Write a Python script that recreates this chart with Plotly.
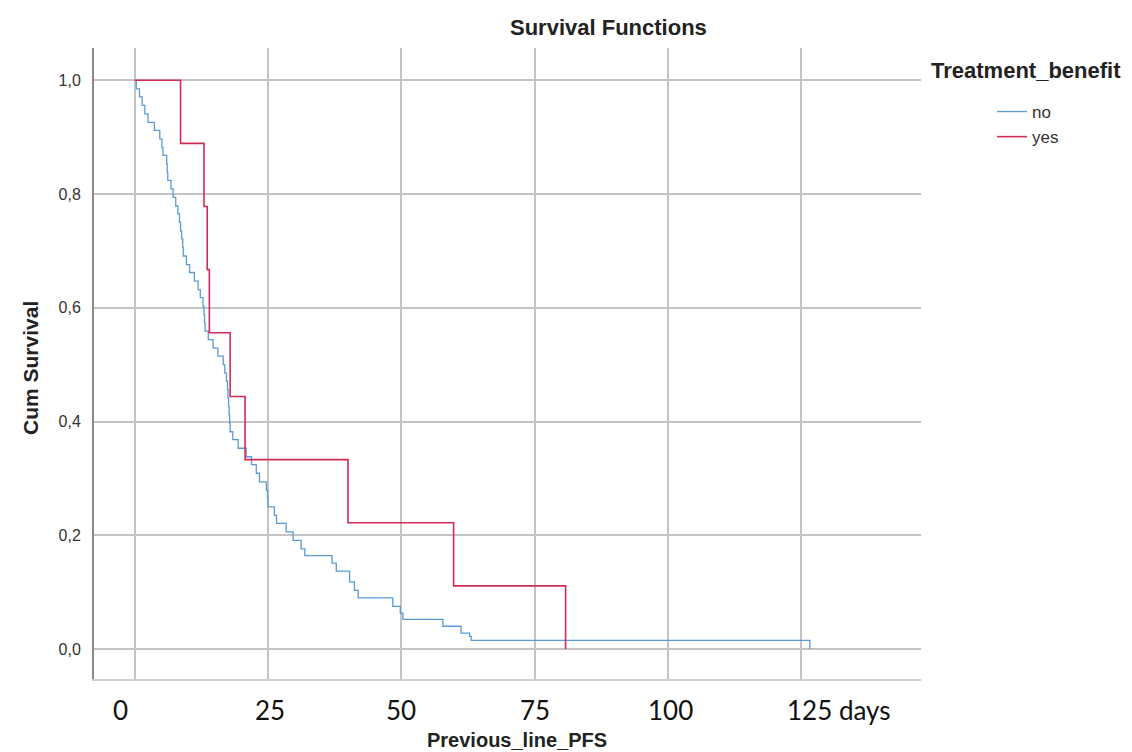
import plotly.graph_objects as go

# ---- data (Kaplan-Meier steps) ----
no_time = [0, 0.3, 0.9, 1.4, 1.9, 2.5, 3.7, 4.7, 5.1, 5.3, 6.0, 6.1, 6.2, 6.8, 7.2, 7.7,
           8.1, 8.4, 8.6, 8.8, 9.0, 9.1, 9.7, 10.3, 11.2, 11.9, 12.3, 12.8, 13.0, 13.1,
           13.2, 13.8, 14.7, 15.6, 16.6, 16.9, 17.2, 17.4, 17.5, 17.6, 17.7, 17.8, 17.9,
           18.4, 19.4, 20.9, 21.9, 22.8, 23.4, 24.7, 24.9, 25.0, 26.2, 26.6, 28.4, 29.7,
           31.2, 31.9, 37.0, 37.8, 40.3, 41.2, 41.9, 48.4, 49.8, 50.3, 57.8, 61.2, 62.8,
           63.1, 126.6]
no_surv = [1.0, 0.985, 0.971, 0.956, 0.941, 0.926, 0.912, 0.897, 0.882, 0.868, 0.853, 0.838,
           0.824, 0.809, 0.794, 0.779, 0.765, 0.750, 0.735, 0.721, 0.706, 0.691, 0.676,
           0.662, 0.647, 0.632, 0.618, 0.603, 0.588, 0.574, 0.559, 0.544, 0.529, 0.515,
           0.500, 0.485, 0.471, 0.456, 0.441, 0.426, 0.412, 0.397, 0.382, 0.368, 0.353,
           0.338, 0.324, 0.309, 0.294, 0.279, 0.265, 0.250, 0.235, 0.221, 0.206, 0.191,
           0.176, 0.164, 0.151, 0.137, 0.118, 0.103, 0.090, 0.075, 0.063, 0.052, 0.040,
           0.028, 0.022, 0.015, 0.0]

yes_time = [0, 8.6, 13.0, 13.6, 14.0, 17.9, 20.7, 40.0, 59.8, 80.8]
yes_surv = [1.0, 0.889, 0.778, 0.667, 0.556, 0.444, 0.333, 0.222, 0.111, 0.0]

y_ticks = [0.0, 0.2, 0.4, 0.6, 0.8, 1.0]
y_tick_text = ["0,0", "0,2", "0,4", "0,6", "0,8", "1,0"]

x_label_pos = [-2.75, 25.4, 50, 75, 100.4, 132]
x_label_text = ["0", "25", "50", "75", "100", "125 days"]

BLUE = "#5b9bd5"
RED = "#d22b55"
SANS = "Liberation Sans, Arial"

# plot area in pixels
L, R, T, B = 86, 913, 40, 671
W, H = R - L, B - T


def px_x(x):
    return (x - L) / W


def px_y(y):
    return (B - y) / H


fig = go.Figure()
fig.add_trace(go.Scatter(x=no_time, y=no_surv, mode="lines", name="no",
                         line=dict(color=BLUE, width=1.3, shape="hv")))
fig.add_trace(go.Scatter(x=yes_time, y=yes_surv, mode="lines", name="yes",
                         line=dict(color=RED, width=1.6, shape="hv")))

for xv, txt in zip(x_label_pos, x_label_text):
    fig.add_annotation(x=xv, y=px_y(702), xref="x", yref="paper", text=txt,
                       showarrow=False, xanchor="center", yanchor="middle",
                       font=dict(family="Lato, Open Sans, sans-serif", size=26, color="#111"))

fig.add_annotation(x=px_x(22), y=px_y(360), xref="paper", yref="paper",
                   text="<b>Cum Survival</b>", showarrow=False, textangle=-90,
                   xanchor="center", yanchor="middle",
                   font=dict(family=SANS, size=21, color="#222"))
fig.add_annotation(x=px_x(509), y=px_y(732), xref="paper", yref="paper",
                   text="<b>Previous_line_PFS</b>", showarrow=False,
                   xanchor="center", yanchor="middle",
                   font=dict(family=SANS, size=20, color="#222"))
fig.add_annotation(x=px_x(921), y=px_y(62), xref="paper", yref="paper",
                   text="<b>Treatment_benefit</b>", showarrow=False,
                   xanchor="left", yanchor="middle",
                   font=dict(family=SANS, size=22, color="#222"))
fig.add_annotation(x=px_x(600), y=px_y(19), xref="paper", yref="paper",
                   text="<b>Survival Functions</b>", showarrow=False,
                   xanchor="center", yanchor="middle",
                   font=dict(family=SANS, size=22, color="#222"))

fig.update_layout(
    width=1132, height=752,
    margin=dict(l=L, r=1132 - R, t=T, b=752 - B, autoexpand=False),
    paper_bgcolor="white", plot_bgcolor="white",
    showlegend=True,
    legend=dict(x=px_x(984), y=px_y(86), xanchor="left", yanchor="top",
                bgcolor="rgba(0,0,0,0)", itemwidth=30, tracegroupgap=0,
                font=dict(family=SANS, size=17, color="#333")),
    xaxis=dict(range=[-7.63, 147.44], showgrid=True, dtick=25, tick0=0,
               gridcolor="#c4c4c4", gridwidth=1.5, showticklabels=False, ticks="",
               zeroline=False, showline=True, linecolor="#cfcfcf", linewidth=1.5),
    yaxis=dict(range=[-0.0528, 1.0568], tickvals=y_ticks, ticktext=y_tick_text,
               showgrid=True, gridcolor="#c4c4c4", gridwidth=1.5, ticks="",
               ticklabelstandoff=8, zeroline=False, showline=True, linecolor="#8a8a8a",
               linewidth=2, tickfont=dict(family=SANS, size=16, color="#333")),
)

fig.write_html("out.html")
